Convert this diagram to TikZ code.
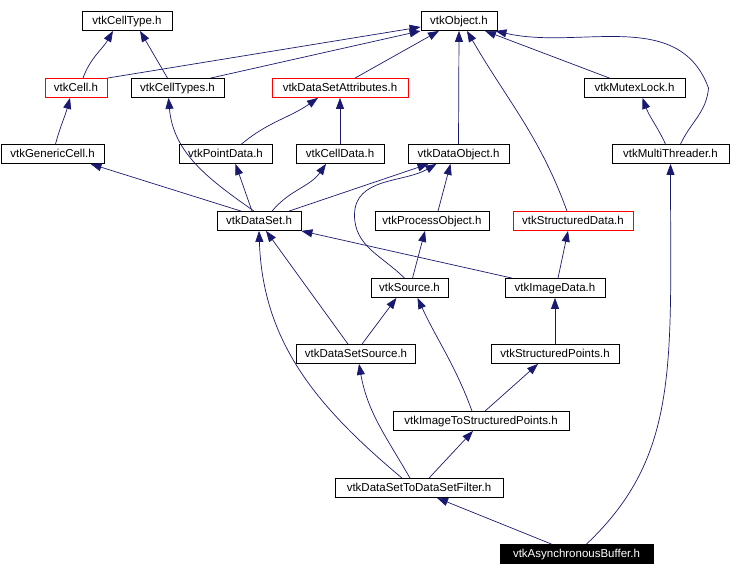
\documentclass[tikz,border=0pt]{standalone}
\usepackage{fontspec}
\setmainfont{Liberation Sans}
\usetikzlibrary{arrows.meta}
\definecolor{doxBlue}{RGB}{25,25,112}
\definecolor{doxRed}{RGB}{255,0,0}

\begin{document}
\begin{tikzpicture}[
  x=1pt, y=1pt,
  hdr/.style={draw=black, fill=white, line width=0.8pt, font=\fontsize{11.5}{13}\selectfont, minimum height=19pt, inner sep=0pt, text height=8.6pt, text depth=2.2pt},
  redhdr/.style={hdr, draw=doxRed},
  cur/.style={hdr, draw=black, fill=black, text=white},
  inc/.style={-{Triangle[length=11pt, width=8pt]}, draw=doxBlue, line width=0.7pt}
]
\useasboundingbox (0,0) rectangle (738,576);

% headers, top row first
\node[hdr, minimum width=90] (celltype) at (127,555) {vtkCellType.h};
\node[hdr, minimum width=76] (object) at (459,555) {vtkObject.h};

\node[redhdr, minimum width=62] (cell) at (76,488) {vtkCell.h};
\node[hdr, minimum width=93] (celltypes) at (177.5,488) {vtkCellTypes.h};
\node[redhdr, minimum width=136] (dsattr) at (340,488) {vtkDataSetAttributes.h};
\node[hdr, minimum width=101] (mutex) at (634.5,488) {vtkMutexLock.h};

\node[hdr, minimum width=103] (generic) at (52.5,422) {vtkGenericCell.h};
\node[hdr, minimum width=93] (pointdata) at (225.5,422) {vtkPointData.h};
\node[hdr, minimum width=88] (celldata) at (340,422) {vtkCellData.h};
\node[hdr, minimum width=101] (dataobject) at (458.5,422) {vtkDataObject.h};
\node[hdr, minimum width=117] (multithr) at (670.5,422) {vtkMultiThreader.h};

\node[hdr, minimum width=84] (dataset) at (259,355) {vtkDataSet.h};
\node[hdr, minimum width=114] (procobj) at (432,355) {vtkProcessObject.h};
\node[redhdr, minimum width=120] (structdata) at (573,355) {vtkStructuredData.h};

\node[hdr, minimum width=77] (source) at (409.5,288) {vtkSource.h};
\node[hdr, minimum width=100] (imagedata) at (555,288) {vtkImageData.h};

\node[hdr, minimum width=119] (dssource) at (356,222) {vtkDataSetSource.h};
\node[hdr, minimum width=128] (structpts) at (555,222) {vtkStructuredPoints.h};

\node[hdr, minimum width=176] (imgtosp) at (481,155) {vtkImageToStructuredPoints.h};
\node[hdr, minimum width=168] (dstdsf) at (419,88) {vtkDataSetToDataSetFilter.h};
\node[cur, minimum width=153] (async) at (576.5,22) {vtkAsynchronousBuffer.h};

% include edges
\draw[inc] ([xshift=7]cell.north) to[out=70,in=-120] ([xshift=-14]celltype.south);
\draw[inc] ([xshift=-10]celltypes.north) -- ([xshift=13]celltype.south);
\draw[inc] (cell.north east) -- ([yshift=-6]object.west);
\draw[inc] ([xshift=33]celltypes.north) -- (object.south west);
\draw[inc] ([xshift=15]dsattr.north) -- ([xshift=-20]object.south);
\draw[inc] (dataobject.north) -- (object.south);
\draw[inc] ([xshift=-6]structdata.north) to[out=110,in=-60] ([xshift=8]object.south);
\draw[inc] ([xshift=-25]mutex.north) -- ([xshift=26]object.south);
\draw[inc] ([xshift=10]multithr.north) to[out=65,in=-95] ++(28,56)
  to[out=110,in=-13] ([xshift=-2]object.south east);

\draw[inc] ([xshift=3]generic.north) to[out=75,in=-105] ([xshift=-6]cell.south);
\draw[inc] ([xshift=16]pointdata.north) to[out=40,in=-145] ([xshift=-22]dsattr.south);
\draw[inc] (celldata.north) -- (dsattr.south);
\draw[inc] ([xshift=-5]multithr.north) to[out=115,in=-70] ([xshift=8]mutex.south);

\draw[inc] ([xshift=-18]dataset.north) -- ([xshift=38]generic.south);
\draw[inc] ([xshift=-5]dataset.north) to[out=145,in=-85] ([xshift=-9]celltypes.south);
\draw[inc] ([xshift=-7]dataset.north) -- ([xshift=10]pointdata.south);
\draw[inc] ([xshift=13]dataset.north) to[out=50,in=-125] ([xshift=-14]celldata.south);
\draw[inc] ([xshift=30]dataset.north) -- ([xshift=-30]dataobject.south);
\draw[inc] ([xshift=-5]source.north) to[out=135,in=-90] ++(-50,63)
  to[out=90,in=-150] ([xshift=-22]dataobject.south);
\draw[inc] ([xshift=6]procobj.north) -- ([xshift=-8]dataobject.south);

\draw[inc] ([xshift=-43]imagedata.north) -- (dataset.south east);
\draw[inc] ([xshift=3]imagedata.north) -- ([xshift=-5]structdata.south);
\draw[inc] ([xshift=3]source.north) -- ([xshift=-7]procobj.south);

\draw[inc] ([xshift=-8]dssource.north) -- ([xshift=7]dataset.south);
\draw[inc] ([xshift=6]dssource.north) -- ([xshift=-13]source.south);
\draw[inc] (structpts.north) -- (imagedata.south);

\draw[inc] ([xshift=-9]imgtosp.north) to[out=110,in=-65] ([xshift=8]source.south);
\draw[inc] ([xshift=4]imgtosp.north) -- ([xshift=-17]structpts.south);

\draw[inc] ([xshift=-17]dstdsf.north) to[out=140,in=-88] (dataset.south);
\draw[inc] ([xshift=-9]dstdsf.north) to[out=120,in=-80] ([xshift=3]dssource.south);
\draw[inc] ([xshift=10]dstdsf.north) -- ([xshift=-8]imgtosp.south);

\draw[inc] ([xshift=-25]async.north) -- ([xshift=18]dstdsf.south);
\draw[inc] ([xshift=10]async.north) .. controls +(93.5,88.5) and +(0,-200) .. (multithr.south);
\end{tikzpicture}
\end{document}
